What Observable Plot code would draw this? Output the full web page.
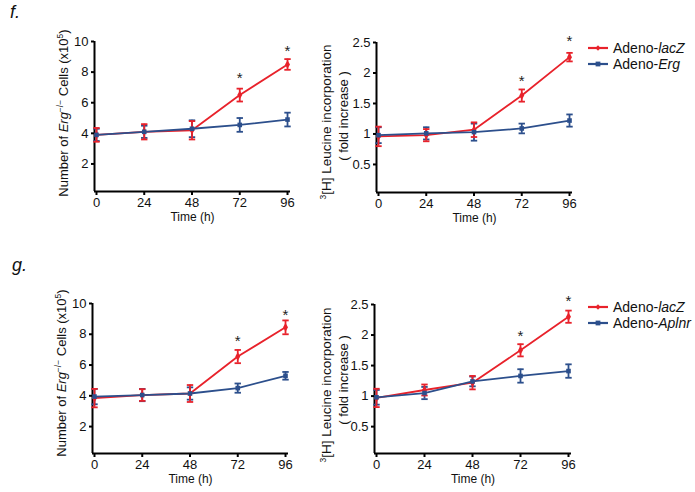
<!DOCTYPE html>
<html>
<head>
<meta charset="utf-8">
<script src="https://cdn.jsdelivr.net/npm/d3@7"></script>
<script src="https://cdn.jsdelivr.net/npm/@observablehq/plot@0.6"></script>
<style>
  html, body { margin: 0; padding: 0; background: #fff; }
  #root { position: relative; width: 695px; height: 492px; background: #fff; font-family: "Liberation Sans", Arial, sans-serif; overflow: hidden; }
  .cell { position: absolute; }
  .letter { position: absolute; font-style: italic; font-size: 18px; color: #111; }
  .legend { position: absolute; font-size: 14px; color: #111; line-height: 16px; }
  .legend div { display: flex; align-items: center; height: 16px; white-space: nowrap; }
  .legend svg { margin-right: 5px; }
</style>
</head>
<body>
<div id="root"></div>
<script>
// ---------- data ----------
const times = [0, 24, 48, 72, 96];
const starTimes = [72, 96];

// panel f, left: number of Erg-/- cells (x10^5)
const fCellsLacZ    = [3.9, 4.1, 4.2, 6.5, 8.5];
const fCellsLacZErr = [0.45, 0.5, 0.6, 0.42, 0.35];
const fCellsErg     = [3.9, 4.1, 4.3, 4.55, 4.9];
const fCellsErgErr  = [0.4, 0.4, 0.55, 0.45, 0.45];
const fCellsStars   = [7.85, 9.65];

// panel f, right: 3[H] leucine incorporation (fold increase)
const fLeuLacZ    = [0.96, 0.98, 1.07, 1.63, 2.26];
const fLeuLacZErr = [0.16, 0.1, 0.12, 0.1, 0.07];
const fLeuErg     = [0.98, 1.01, 1.03, 1.09, 1.22];
const fLeuErgErr  = [0.13, 0.1, 0.14, 0.08, 0.1];
const fLeuStars   = [1.93, 2.58];

// panel g, left
const gCellsLacZ     = [3.85, 4.05, 4.15, 6.55, 8.45];
const gCellsLacZErr  = [0.6, 0.38, 0.55, 0.43, 0.45];
const gCellsAplnr    = [3.95, 4.05, 4.15, 4.5, 5.3];
const gCellsAplnrErr = [0.5, 0.4, 0.4, 0.3, 0.25];
const gCellsStars    = [7.8, 9.5];

// panel g, right
const gLeuLacZ     = [0.97, 1.1, 1.22, 1.75, 2.3];
const gLeuLacZErr  = [0.15, 0.09, 0.11, 0.1, 0.1];
const gLeuAplnr    = [0.98, 1.05, 1.24, 1.33, 1.41];
const gLeuAplnrErr = [0.12, 0.1, 0.08, 0.11, 0.11];
const gLeuStars    = [2.05, 2.62];

const cellTicks = [2, 4, 6, 8, 10];
const leuTicks  = [0.5, 1, 1.5, 2, 2.5];

const RED = "#e8222b";
const BLUE = "#2c4f8c";
const FONT = "Liberation Sans, Arial, sans-serif";

// ---------- helpers ----------
const capSymbol = {
  draw(ctx, size) {
    const r = Math.sqrt(size / Math.PI);
    ctx.moveTo(-r, 0); ctx.lineTo(r, 0);
  }
};

function rows(vals, errs) {
  return times.map((t, i) => ({t, v: vals[i], lo: vals[i] - errs[i], hi: vals[i] + errs[i]}));
}

function seriesMarks(data, color, symbol) {
  return {
    line: Plot.line(data, {x: "t", y: "v", stroke: color, strokeWidth: 1.8}),
    err: [
      Plot.ruleX(data, {x: "t", y1: "lo", y2: "hi", stroke: color, strokeWidth: 1.8}),
      Plot.dot(data, {x: "t", y: "lo", symbol: capSymbol, r: 3.2, stroke: color, strokeWidth: 1.8}),
      Plot.dot(data, {x: "t", y: "hi", symbol: capSymbol, r: 3.2, stroke: color, strokeWidth: 1.8})
    ],
    dot: Plot.dot(data, {x: "t", y: "v", symbol, r: 2.6, fill: color, stroke: "none"})
  };
}

function panel(cfg) {
  const red = seriesMarks(rows(cfg.lacZ, cfg.lacZErr), RED, "diamond");
  const blue = seriesMarks(rows(cfg.other, cfg.otherErr), BLUE, "square");
  const stars = starTimes.map((t, i) => ({t, y: cfg.stars[i]}));
  const chart = Plot.plot({
    width: cfg.width,
    height: cfg.height,
    marginLeft: cfg.mL, marginRight: cfg.mR, marginTop: cfg.mT, marginBottom: cfg.mB,
    style: {background: "transparent", fontFamily: FONT, overflow: "visible", color: "#111"},
    x: {domain: [-1, 97.5]},
    y: {domain: cfg.yDomain},
    marks: [
      Plot.axisX({ticks: times, tickSize: 4, tickPadding: 2, fontSize: 13, strokeWidth: 2, stroke: "#000", label: null}),
      Plot.axisY({ticks: cfg.yTicks, tickSize: 3, tickPadding: 3, fontSize: 13, strokeWidth: 2, stroke: "#000", label: null,
                  tickFormat: d => String(d)}),
      Plot.ruleX([-1], {stroke: "#000", strokeWidth: 2}),
      Plot.ruleY([cfg.yDomain[0]], {stroke: "#000", strokeWidth: 2}),
      red.line, blue.line,
      ...blue.err, ...red.err,
      red.dot, blue.dot,
      Plot.text(stars, {x: "t", y: "y", text: () => "*", fontSize: 15, fill: "#222", dy: 4}),
      Plot.text(["Time (h)"], {frameAnchor: "bottom", lineAnchor: "middle", dy: cfg.timeDy, fontSize: 12, fill: "#111"})
    ]
  });
  // rich y-axis label (italic gene names, superscripts)
  const svg = d3.select(chart.tagName.toLowerCase() === "svg" ? chart : chart.querySelector("svg"));
  cfg.ylabel(svg);
  const div = document.createElement("div");
  div.className = "cell";
  div.style.left = cfg.left + "px";
  div.style.top = cfg.top + "px";
  div.style.width = cfg.width + "px";
  div.style.height = cfg.height + "px";
  div.appendChild(chart);
  return div;
}

function cellsLabel(x, y) {
  return svg => {
    const t = svg.append("text")
      .attr("transform", `translate(${x},${y}) rotate(-90)`)
      .attr("text-anchor", "middle")
      .attr("font-family", FONT).attr("font-size", 13).attr("fill", "#111");
    t.append("tspan").text("Number of ");
    t.append("tspan").attr("font-style", "italic").text("Erg");
    t.append("tspan").attr("font-size", 8.5).attr("dy", -5).text("−/−");
    t.append("tspan").attr("dy", 5).text(" Cells (x10");
    t.append("tspan").attr("font-size", 8.5).attr("dy", -5).text("5");
    t.append("tspan").attr("dy", 5).text(")");
  };
}

function leuLabel(x1, y1, x2, y2) {
  return svg => {
    const a = svg.append("text")
      .attr("transform", `translate(${x1},${y1}) rotate(-90)`)
      .attr("text-anchor", "middle")
      .attr("font-family", FONT).attr("font-size", 13.5).attr("fill", "#111");
    a.append("tspan").attr("font-size", 8.5).attr("dy", -5).text("3");
    a.append("tspan").attr("dy", 5).text("[H] Leucine incorporation");
    svg.append("text")
      .attr("transform", `translate(${x2},${y2}) rotate(-90)`)
      .attr("text-anchor", "middle")
      .attr("font-family", FONT).attr("font-size", 13).attr("fill", "#111")
      .text("( fold increase )");
  };
}

const root = document.getElementById("root");

// panel f left
root.appendChild(panel({
  left: 0, top: 0, width: 330, height: 240,
  mL: 94, mR: 40, mT: 41, mB: 49,
  yDomain: [0.2, 10], yTicks: cellTicks,
  lacZ: fCellsLacZ, lacZErr: fCellsLacZErr, other: fCellsErg, otherErr: fCellsErgErr,
  stars: fCellsStars, timeDy: 26,
  ylabel: cellsLabel(68, 113)
}));
// panel f right
root.appendChild(panel({
  left: 300, top: 0, width: 290, height: 240,
  mL: 76, mR: 18, mT: 42, mB: 48,
  yDomain: [0.04, 2.5], yTicks: leuTicks,
  lacZ: fLeuLacZ, lacZErr: fLeuLacZErr, other: fLeuErg, otherErr: fLeuErgErr,
  stars: fLeuStars, timeDy: 26,
  ylabel: leuLabel(31, 122, 48, 116)
}));
// panel g left
root.appendChild(panel({
  left: 0, top: 250, width: 330, height: 240,
  mL: 92, mR: 42, mT: 53, mB: 37,
  yDomain: [0.25, 10], yTicks: cellTicks,
  lacZ: gCellsLacZ, lacZErr: gCellsLacZErr, other: gCellsAplnr, otherErr: gCellsAplnrErr,
  stars: gCellsStars, timeDy: 26,
  ylabel: cellsLabel(66, 123)
}));
// panel g right
root.appendChild(panel({
  left: 300, top: 250, width: 290, height: 240,
  mL: 74, mR: 19, mT: 54, mB: 37,
  yDomain: [0.06, 2.5], yTicks: leuTicks,
  lacZ: gLeuLacZ, lacZErr: gLeuLacZErr, other: gLeuAplnr, otherErr: gLeuAplnrErr,
  stars: gLeuStars, timeDy: 26,
  ylabel: leuLabel(31, 135, 48, 130)
}));

// panel letters
function letter(txt, x, y) {
  const d = document.createElement("div");
  d.className = "letter";
  d.style.left = x + "px"; d.style.top = y + "px";
  d.textContent = txt;
  root.appendChild(d);
}
letter("f.", 10, 2);
letter("g.", 12, 255);

// legends
function legend(x, y, otherName) {
  const d = document.createElement("div");
  d.className = "legend";
  d.style.left = x + "px"; d.style.top = y + "px";
  const item = (color, shape, html) => {
    const row = document.createElement("div");
    const mark = shape === "diamond"
      ? `<path d="M10,4.2 L12.6,7 L10,9.8 L7.4,7 Z" fill="${color}"/>`
      : `<rect x="7.6" y="4.6" width="4.8" height="4.8" fill="${color}"/>`;
    row.innerHTML = `<svg width="20" height="14"><line x1="0" y1="7" x2="20" y2="7" stroke="${color}" stroke-width="2.2"/>${mark}</svg><span>${html}</span>`;
    d.appendChild(row);
  };
  item(RED, "diamond", "Adeno-<i>lacZ</i>");
  item(BLUE, "square", `Adeno-<i>${otherName}</i>`);
  root.appendChild(d);
}
legend(588, 40, "Erg");
legend(588, 299, "Aplnr");
</script>
</body>
</html>
